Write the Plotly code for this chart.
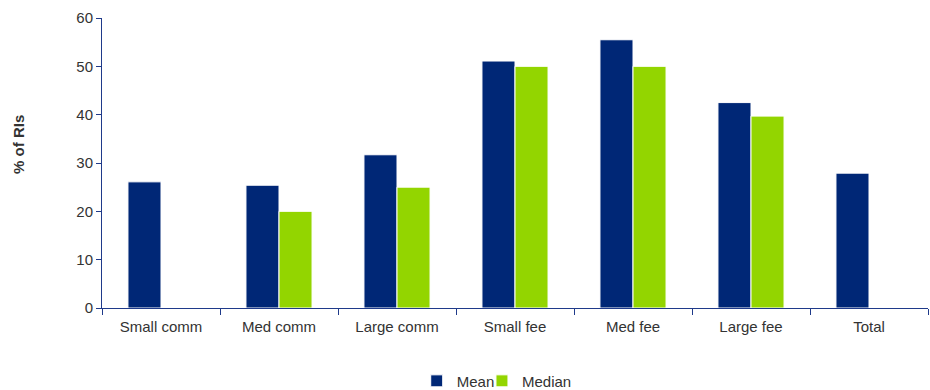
import plotly.graph_objects as go

categories = ["Small comm", "Med comm", "Large comm", "Small fee", "Med fee", "Large fee", "Total"]
mean_values = [26.1, 25.4, 31.7, 51.1, 55.5, 42.5, 27.9]
median_values = [None, 20, 25, 50, 50, 39.7, None]
y_ticks = [0, 10, 20, 30, 40, 50, 60]

NAVY = "#002776"
GREEN = "#93D500"
AXIS = "#1F3A8A"
TEXT = "#333333"
FONT = "Liberation Sans, Arial, sans-serif"

fig = go.Figure()
fig.add_trace(go.Bar(
    name="Mean", x=categories, y=mean_values, legend="legend",
    marker=dict(color=NAVY, line=dict(color="white", width=1)),
))
fig.add_trace(go.Bar(
    name="Median", x=categories, y=median_values, legend="legend2",
    marker=dict(color=GREEN, line=dict(color="white", width=1)),
))

legend_style = dict(
    orientation="h", yanchor="middle", y=-0.252, xanchor="left",
    font=dict(family=FONT, size=15, color=TEXT), itemwidth=30,
    bgcolor="rgba(0,0,0,0)",
)

fig.update_layout(
    width=930, height=390,
    margin=dict(l=102, r=2, t=18, b=82, autoexpand=False),
    paper_bgcolor="white", plot_bgcolor="white",
    barmode="group", bargap=0.44, bargroupgap=0,
    font=dict(family=FONT, size=15, color=TEXT),
    showlegend=True,
    legend=dict(x=0.381, **legend_style),
    legend2=dict(x=0.460, **legend_style),
    xaxis=dict(
        showline=True, linecolor=AXIS, linewidth=1,
        ticks="outside", ticklen=6, tickcolor=AXIS, tickson="boundaries",
        ticklabelstandoff=5,
        showgrid=False, tickfont=dict(family=FONT, size=15, color=TEXT),
    ),
    yaxis=dict(
        range=[0, 60], tickvals=y_ticks,
        showline=True, linecolor=AXIS, linewidth=1,
        ticks="outside", ticklen=5, tickcolor=AXIS,
        showgrid=False, zeroline=False,
        tickfont=dict(family=FONT, size=15, color=TEXT),
    ),
    annotations=[dict(
        text="<b>% of RIs</b>", textangle=-90,
        xref="paper", yref="paper", x=-0.102, y=0.565,
        xanchor="center", yanchor="middle", showarrow=False,
        font=dict(family=FONT, size=15, color=TEXT),
    )],
)

fig.write_html("out.html")
